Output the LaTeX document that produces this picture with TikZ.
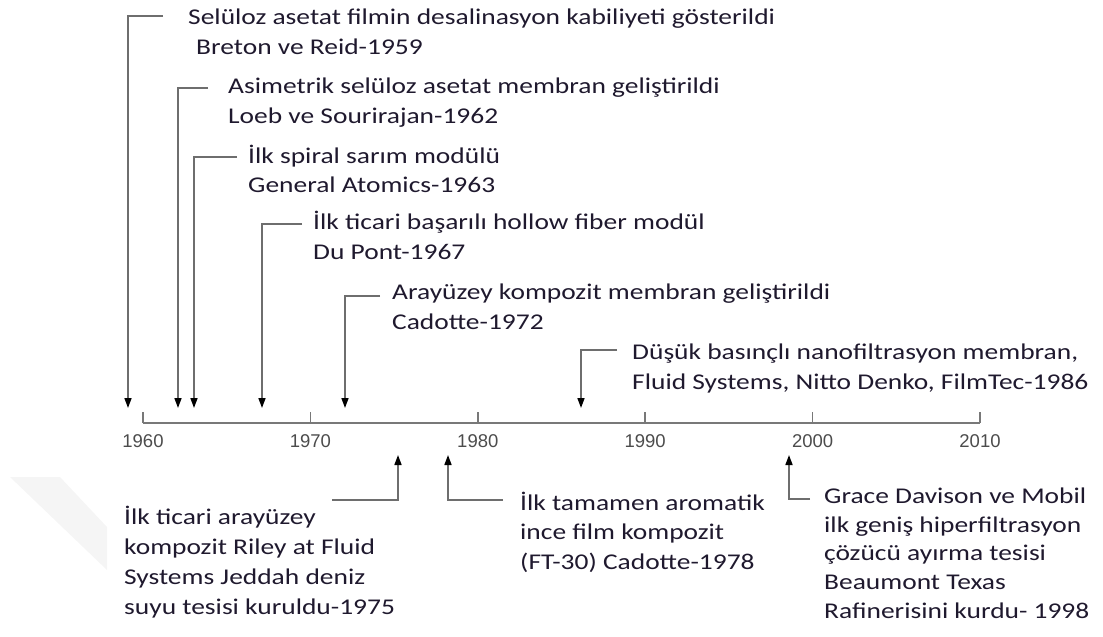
\documentclass[tikz,border=0pt]{standalone}
\usepackage{fontspec}
\setmainfont[FakeStretch=1.22]{Carlito}
\newfontfamily\axisfont{Liberation Sans}
\usetikzlibrary{arrows.meta}
\definecolor{txt}{rgb}{0.12,0.10,0.18}
\definecolor{lead}{RGB}{110,110,110}
\definecolor{axc}{RGB}{120,120,120}
\begin{document}
\begin{tikzpicture}[x=1pt,y=-1pt,
  lbl/.style={anchor=base west,inner sep=0,align=left,text=txt,font=\fontsize{22.5}{30}\selectfont},
  yr/.style={anchor=center,inner sep=0,text=black!70,font=\axisfont\fontsize{18.5}{20}\selectfont},
  leadline/.style={draw=lead,line width=1.6pt},
  arr/.style={leadline,-{Triangle[width=7pt,length=10pt,black]}},
  tick/.style={draw=axc,line width=1.6pt}]
\useasboundingbox (0,0) rectangle (1103,637);
% faint watermark
\fill[gray!8] (10,477) -- (60,477) -- (107,527) -- (107,570) -- cycle;
% axis
\coordinate (ax0) at (143,423);
\coordinate (ax1) at (980,423);
\draw[tick] (ax0) -- (ax1);
\foreach \i/\yy/\xx in {0/1960/143,1/1970/310.4,2/1980/477.8,3/1990/645.2,4/2000/812.6,5/2010/980}{
  \coordinate (tk\i) at (\xx,412);
  \draw[tick] (tk\i) -- (\xx,423);
  \node[yr] (y\i) at (\xx,441) {\yy};
}
% top labels (anchor = baseline of last line)
\node[lbl] (t1) at (188,54) {Selüloz asetat filmin desalinasyon kabiliyeti gösterildi\\\hspace{8pt}Breton ve Reid-1959};
\node[lbl] (t2) at (228,123) {Asimetrik selüloz asetat membran geliştirildi\\Loeb ve Sourirajan-1962};
\node[lbl,font=\fontsize{22.5}{29}\selectfont] (t3) at (248,192) {İlk spiral sarım modülü\\General Atomics-1963};
\node[lbl] (t4) at (313,259) {İlk ticari başarılı hollow fiber modül\\Du Pont-1967};
\node[lbl] (t5) at (392,329) {Arayüzey kompozit membran geliştirildi\\Cadotte-1972};
\node[lbl] (t6) at (632,389) {Düşük basınçlı nanofiltrasyon membran,\\Fluid Systems, Nitto Denko, FilmTec-1986};
% bottom labels
\node[lbl] (b1) at (124,614) {İlk ticari arayüzey\\kompozit Riley at Fluid\\Systems Jeddah deniz\\suyu tesisi kuruldu-1975};
\node[lbl,font=\fontsize{22.5}{29.5}\selectfont] (b2) at (520,569) {İlk tamamen aromatik\\ince film kompozit\\(FT-30) Cadotte-1978};
\node[lbl,font=\fontsize{22.5}{28.6}\selectfont] (b3) at (824,618) {Grace Davison ve Mobil\\ilk geniş hiperfiltrasyon\\çözücü ayırma tesisi\\Beaumont Texas\\Rafinerisini kurdu- 1998};
% top connectors
\coordinate (s1) at (163,16);  \coordinate (a1) at (128,408);
\coordinate (s2) at (208,88);  \coordinate (a2) at (178,408);
\coordinate (s3) at (237,157); \coordinate (a3) at (194,408);
\coordinate (s4) at (302,224); \coordinate (a4) at (262,408);
\coordinate (s5) at (380,296); \coordinate (a5) at (345,408);
\coordinate (s6) at (617,350); \coordinate (a6) at (581,408);
\foreach \k in {1,...,6}{\draw[arr] (s\k) -| (a\k);}
% bottom connectors
\coordinate (u1) at (332,500); \coordinate (c1) at (398,455);
\coordinate (u2) at (503,500); \coordinate (c2) at (448,455);
\coordinate (u3) at (810,499); \coordinate (c3) at (789,455);
\foreach \k in {1,2,3}{\draw[arr] (u\k) -| (c\k);}
\end{tikzpicture}
\end{document}
